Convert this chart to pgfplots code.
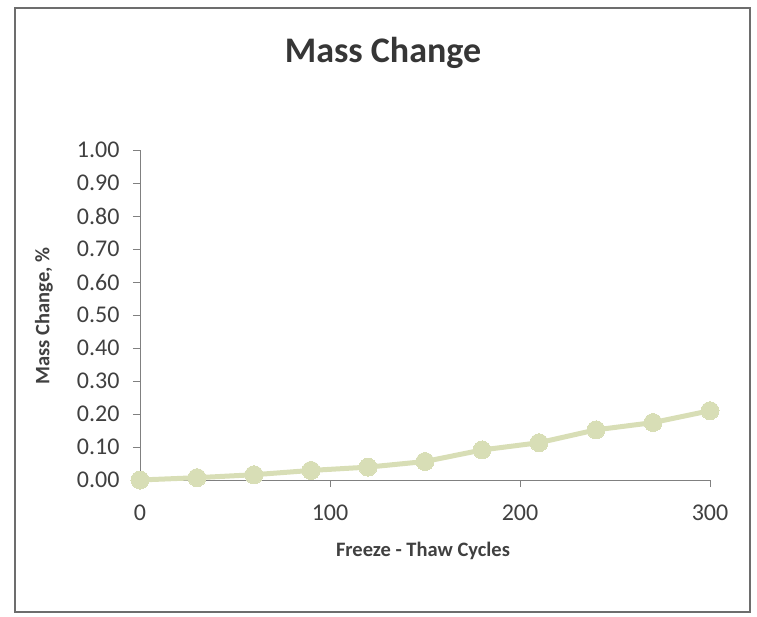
\documentclass[border=0pt]{standalone}
\usepackage{pgfplots}
\pgfplotsset{compat=1.18}
\usepackage{fontspec}
\setmainfont{Carlito}
\definecolor{linec}{RGB}{216,222,182}
\definecolor{txt}{RGB}{64,64,64}
\definecolor{axc}{RGB}{128,128,128}
\begin{document}
\begin{tikzpicture}
\path[use as bounding box] (-140pt,-136pt) rectangle (617pt,480pt);
\draw[color=axc!85!black, line width=1.8pt] (-125pt,-132pt) rectangle (610pt,472pt);
\begin{axis}[
  at={(0pt,0pt)}, anchor=south west,
  scale only axis, width=570pt, height=330pt,
  xmin=0, xmax=300, ymin=0, ymax=1,
  clip=false,
  axis x line=bottom, axis y line=left,
  axis line style={color=axc, line width=0.8pt, -},
  xtick={0,100,200,300},
  ytick={0,0.1,...,1.0},
  tick style={color=axc, line width=0.8pt},
  tick align=outside,
  major tick length=7pt,
  /pgf/number format/assume math mode=true,
  yticklabel style={/pgf/number format/fixed, /pgf/number format/fixed zerofill, /pgf/number format/precision=2, font=\fontsize{24}{28}\selectfont, color=txt, xshift=-10pt},
  xticklabel style={font=\fontsize{24}{28}\selectfont, color=txt, yshift=-14pt},
  scaled y ticks=false,
]
\addplot[color=linec, line width=5pt, mark=*, mark size=9pt, mark options={fill=linec, draw=linec, line width=0pt}] coordinates {
(0,0.000) (30,0.007) (60,0.016) (90,0.029) (120,0.039) (150,0.056) (180,0.091) (210,0.113) (240,0.152) (270,0.174) (300,0.210)
};
\end{axis}
\node[font=\fontsize{36}{42}\selectfont\bfseries, color=txt!85!black] at (243pt,427pt) {Mass Change};
\node[font=\fontsize{20.5}{24}\selectfont\bfseries, color=txt] at (283pt,-71pt) {Freeze - Thaw Cycles};
\node[font=\fontsize{20.5}{24}\selectfont\bfseries, color=txt, rotate=90] at (-96pt,164pt) {Mass Change, \%};
\end{tikzpicture}
\end{document}
